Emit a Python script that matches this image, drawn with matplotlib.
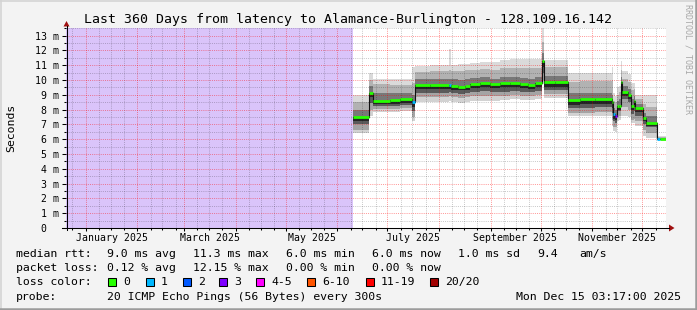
import matplotlib
matplotlib.use("Agg")
import matplotlib.pyplot as plt
import matplotlib.dates as mdates
from matplotlib.patches import Rectangle, Polygon
from matplotlib.lines import Line2D
from matplotlib.ticker import FuncFormatter
import pandas as pd

plt.rcParams['font.family'] = ['DejaVu Sans Mono']

# ---------------- data ----------------
title = "Last 360 Days from latency to Alamance-Burlington - 128.109.16.142"
end_time = "2025-12-15 03:17"
span_days = 360

seg_start = [
    "2025-06-10 05:00", "2025-06-19 17:00", "2025-06-22 05:00", "2025-07-02 14:00",
    "2025-07-08 14:00", "2025-07-15 19:00", "2025-07-17 14:00", "2025-07-26 14:00",
    "2025-08-06 17:00", "2025-08-07 22:00", "2025-08-12 10:00", "2025-08-16 14:00",
    "2025-08-19 14:00", "2025-08-25 14:00", "2025-08-31 14:00", "2025-09-06 14:00",
    "2025-09-12 14:00", "2025-09-18 14:00", "2025-09-23 10:00", "2025-09-27 14:00",
    "2025-10-01 12:00", "2025-10-02 17:00", "2025-10-09 14:00", "2025-10-17 12:00",
    "2025-10-24 14:00", "2025-11-02 14:00", "2025-11-12 12:00", "2025-11-13 12:00",
    "2025-11-14 14:00", "2025-11-15 19:00", "2025-11-16 17:00", "2025-11-17 22:00",
    "2025-11-18 19:00", "2025-11-22 10:00", "2025-11-24 05:00", "2025-11-25 17:00",
    "2025-11-26 14:00", "2025-12-01 12:00", "2025-12-03 05:00", "2025-12-09 19:00",
    "2025-12-11 07:00",
]
median_ms = [7.50, 9.13, 8.60, 8.67, 8.72, 8.50, 9.69, 9.66, 9.69, 9.62, 9.55, 9.62,
             9.76, 9.82, 9.72, 9.78, 9.80, 9.72, 9.66, 9.80, 11.26, 9.87, 9.84, 8.62,
             8.70, 8.70, 8.50, 7.70, 7.55, 8.27, 8.27, 9.84, 9.22, 9.00, 8.27, 8.56,
             8.11, 7.44, 7.12, 6.02, 6.02]
loss_idx = [0, 0, 0, 0, 0, 1, 0, 0, 1, 0, 0, 0, 0, 0, 0, 0, 0, 0, 0, 0, 0, 0, 0, 0,
            0, 0, 0, 1, 3, 0, 0, 0, 0, 0, 0, 0, 0, 0, 0, 1, 0]
smoke_min = [6.40, 7.60, 7.85, 7.85, 7.90, 7.20, 8.55, 8.55, 8.60, 8.55, 8.45, 8.50,
             8.60, 8.60, 8.60, 8.65, 8.70, 8.65, 8.65, 8.70, 9.75, 8.80, 8.80, 7.55,
             7.55, 7.60, 6.90, 6.55, 6.50, 7.20, 7.30, 7.60, 7.55, 7.50, 7.10, 7.10,
             6.87, 6.20, 6.08, 5.92, 5.92]
smoke_lo1 = [6.65, 8.00, 8.05, 8.05, 8.10, 7.50, 8.85, 8.85, 8.90, 8.85, 8.80, 8.85,
             8.90, 8.90, 8.90, 8.95, 9.00, 8.95, 8.95, 9.00, 10.00, 9.05, 9.05, 7.80,
             7.80, 7.85, 7.30, 6.85, 6.80, 7.50, 7.60, 8.40, 8.20, 8.00, 7.30, 7.40,
             7.20, 6.60, 6.40, 5.95, 5.95]
smoke_lo2 = [7.00, 8.45, 8.25, 8.25, 8.30, 7.90, 9.15, 9.15, 9.20, 9.10, 9.05, 9.10,
             9.20, 9.25, 9.20, 9.20, 9.25, 9.20, 9.20, 9.25, 10.50, 9.30, 9.30, 8.10,
             8.10, 8.15, 7.80, 7.20, 7.10, 7.90, 7.90, 9.30, 8.70, 8.50, 7.70, 7.90,
             7.60, 7.00, 6.80, 5.98, 5.98]
smoke_dark = [7.20, 8.85, 8.35, 8.40, 8.45, 8.20, 9.40, 9.40, 9.40, 9.35, 9.30, 9.35,
              9.45, 9.50, 9.45, 9.50, 9.50, 9.45, 9.40, 9.50, 10.90, 9.55, 9.55, 8.30,
              8.35, 8.35, 8.10, 7.40, 7.30, 8.00, 8.00, 9.55, 8.95, 8.75, 8.00, 8.20,
              7.85, 7.20, 6.90, 6.00, 6.00]
smoke_hi2 = [7.95, 9.60, 9.15, 9.15, 9.15, 9.00, 10.05, 10.05, 10.10, 10.05, 10.00, 10.05,
             10.15, 10.20, 10.10, 10.20, 10.20, 10.15, 10.10, 10.20, 11.80, 10.25, 10.25, 9.10,
             9.15, 9.15, 9.00, 8.10, 8.00, 8.60, 8.70, 10.20, 9.60, 9.40, 8.70, 8.90,
             8.40, 7.80, 7.55, 6.07, 6.07]
smoke_hi1 = [8.55, 10.00, 9.75, 9.70, 9.70, 9.80, 10.55, 10.60, 10.70, 10.60, 10.60, 10.65,
             10.70, 10.75, 10.70, 10.80, 10.80, 10.80, 10.80, 10.80, 12.60, 10.85, 10.85, 9.90,
             9.95, 9.95, 10.00, 8.60, 8.50, 9.00, 9.20, 10.70, 10.10, 9.90, 9.30, 9.40,
             8.75, 8.40, 8.20, 6.12, 6.12]
smoke_max = [9.00, 10.45, 10.10, 10.05, 10.05, 10.90, 10.95, 11.00, 12.10, 11.05, 11.10, 11.10,
             11.15, 11.20, 11.20, 11.35, 11.40, 11.40, 11.40, 11.40, 13.50, 11.38, 11.38, 10.45,
             10.50, 10.50, 10.90, 9.10, 8.90, 9.50, 9.60, 11.26, 10.60, 10.40, 9.80, 9.80,
             9.00, 9.00, 9.00, 6.20, 6.20]

loss_labels = ["0", "1", "2", "3", "4-5", "6-10", "11-19", "20/20"]
loss_colors = ["#26ff00", "#00b8ff", "#0059ff", "#7e00ff", "#ff00ff", "#ff5500", "#ff0000", "#a10000"]

label_months = ["January 2025", "March 2025", "May 2025", "July 2025", "September 2025", "November 2025"]
label_dates = ["2025-01-16 12:00", "2025-03-16 12:00", "2025-05-16 12:00",
               "2025-07-16 12:00", "2025-09-15 12:00", "2025-11-15 12:00"]

stats_rtt = ["median rtt:", "9.0 ms avg", "11.3 ms max", "6.0 ms min", "6.0 ms now", "1.0 ms sd", "9.4", "am/s"]
stats_loss = ["packet loss:", "0.12 % avg", "12.15 % max", "0.00 % min", "0.00 % now"]
probe_text = ["probe:", "20 ICMP Echo Pings (56 Bytes) every 300s", "Mon Dec 15 03:17:00 2025"]

# ---------------- layout helpers ----------------
W, H = 697, 310
BG = "#f3f3f3"
fig = plt.figure(figsize=(W / 100, H / 100), dpi=100, facecolor=BG)


def fx(px):
    return px / W


def fy(py):
    return 1 - py / H


ax = fig.add_axes([fx(66), fy(228), 600 / W, 200 / H])
ax.set_facecolor("white")

t_end = pd.Timestamp(end_time)
t_start = t_end - pd.Timedelta(days=span_days)
t = pd.to_datetime(seg_start)
tx = list(t) + [t_end]


def ext(v):
    return list(v) + [v[-1]]


# no-data area
ax.axvspan(t_start, t[0], color="#dac4fa", lw=0, zorder=0.5)

# smoke (graded bands around the median)
bands = [(smoke_min, smoke_lo1, "#d2d2d2"),
         (smoke_lo1, smoke_lo2, "#a4a4a4"),
         (smoke_lo2, smoke_dark, "#5a5a5a"),
         (smoke_dark, median_ms, "#262626"),
         (median_ms, smoke_hi2, "#787878"),
         (smoke_hi2, smoke_hi1, "#b2b2b2"),
         (smoke_hi1, smoke_max, "#dadada")]
for lo, hi, c in bands:
    ax.fill_between(tx, ext(lo), ext(hi), step="post", color=c, lw=0, zorder=1)

# median
ax.step(tx, ext(median_ms), where="post", color="#111111", lw=0.8, zorder=3)
for i in range(len(t)):
    ax.hlines(median_ms[i], tx[i], tx[i + 1], colors=loss_colors[loss_idx[i]], lw=2.0, zorder=4)

ax.set_xlim(t_start, t_end)
ax.set_ylim(0, 13.52)

# grid / ticks
month_starts = pd.date_range("2025-01-01", "2025-12-01", freq="MS")
minor_x = []
for m in pd.date_range("2024-12-01", "2025-12-01", freq="MS"):
    for off in (8, 15, 23):
        d = m + pd.Timedelta(days=off)
        if t_start < d < t_end:
            minor_x.append(d)
ax.set_xticks(month_starts)
ax.set_xticks(minor_x, minor=True)
ax.xaxis.set_major_formatter(FuncFormatter(lambda v, p: ""))
ax.set_yticks(range(0, 14))
ax.set_yticks([k + 0.5 for k in range(0, 14)], minor=True)
ax.yaxis.set_major_formatter(FuncFormatter(lambda v, p: "0\u00a0\u00a0" if v == 0 else f"{int(v)} m"))

ax.set_axisbelow(False)
ax.grid(which="major", color="#ff0000", alpha=0.42, ls=(0, (1, 1.2)), lw=0.7)
ax.grid(which="minor", color="#000000", alpha=0.22, ls=(0, (1, 1.2)), lw=0.7)
ax.tick_params(axis="y", which="major", direction="out", length=3, width=0.75, pad=2.0,
               labelsize=7.15, colors="black")
ax.tick_params(axis="y", which="minor", direction="out", length=1.5, width=0.75)
ax.tick_params(axis="x", which="major", direction="out", length=2.5, width=0.75)
ax.tick_params(axis="x", which="minor", direction="out", length=1.5, width=0.75)

for s in ("top", "right", "left", "bottom"):
    ax.spines[s].set_visible(False)

sec = ax.secondary_xaxis("bottom")
sec.set_xticks(mdates.date2num(pd.to_datetime(label_dates)), labels=label_months)
sec.tick_params(length=0, pad=3.8, labelsize=7.15)
sec.spines["bottom"].set_visible(False)

# axes lines and arrows (figure pixel coords)
fig.add_artist(Line2D([fx(62), fx(669)], [fy(228), fy(228)], color="black", lw=0.75))
fig.add_artist(Line2D([fx(66.5), fx(66.5)], [fy(230), fy(26)], color="black", lw=0.75))
fig.add_artist(Polygon([[fx(669), fy(224.5)], [fx(669), fy(231.5)], [fx(674.5), fy(228)]],
                       closed=True, color="#a01010", lw=0))
fig.add_artist(Polygon([[fx(63.5), fy(26.5)], [fx(69.5), fy(26.5)], [fx(66.5), fy(21)]],
                       closed=True, color="#a01010", lw=0))

# texts
fig.text(fx(347.5), fy(19), title, ha="center", va="center", fontsize=9.5)
fig.text(fx(11), fy(128), "Seconds", rotation=90, ha="center", va="center", fontsize=8.25)
fig.text(fx(688), fy(4), "RRDTOOL / TOBI OETIKER", rotation=270, ha="center", va="top",
         fontsize=6.0, color="#a8a8a8")

FS = 8.25
row_y = [254, 268.3, 282.3, 296.7]
rtt_x = [16, 107.3, 193.3, 286, 372, 458, 537, 579.3]
for s, x in zip(stats_rtt, rtt_x):
    fig.text(fx(x), fy(row_y[0]), s, ha="left", va="center", fontsize=FS)
loss_x = [16, 107.3, 193.3, 286, 372]
for s, x in zip(stats_loss, loss_x):
    fig.text(fx(x), fy(row_y[1]), s, ha="left", va="center", fontsize=FS)
fig.text(fx(16), fy(row_y[2]), "loss color:", ha="left", va="center", fontsize=FS)
box_x = [108.3, 145.7, 182.7, 219.3, 256, 307.3, 366, 430.3]
for lab, c, x in zip(loss_labels, loss_colors, box_x):
    fig.add_artist(Rectangle((fx(x), fy(row_y[2] + 4)), 8 / W, 8 / H, facecolor=c,
                             edgecolor="black", lw=0.75))
    fig.text(fx(x + 15), fy(row_y[2]), lab, ha="left", va="center", fontsize=FS)
probe_x = [16, 107.3]
for s, x in zip(probe_text[:2], probe_x):
    fig.text(fx(x), fy(row_y[3]), s, ha="left", va="center", fontsize=FS)
fig.text(fx(681), fy(row_y[3]), probe_text[2], ha="right", va="center", fontsize=FS)

# frame
fig.add_artist(Line2D([0, 1], [fy(0.5), fy(0.5)], color="#d4d4d4", lw=1.2))
fig.add_artist(Line2D([fx(0.5), fx(0.5)], [0, 1], color="#d4d4d4", lw=1.2))
fig.add_artist(Line2D([0, 1], [fy(308.8), fy(308.8)], color="#9c9c9c", lw=1.8))
fig.add_artist(Line2D([fx(695.8), fx(695.8)], [0, 1], color="#9c9c9c", lw=1.8))

fig.savefig("out.png", dpi=100, facecolor=BG)
